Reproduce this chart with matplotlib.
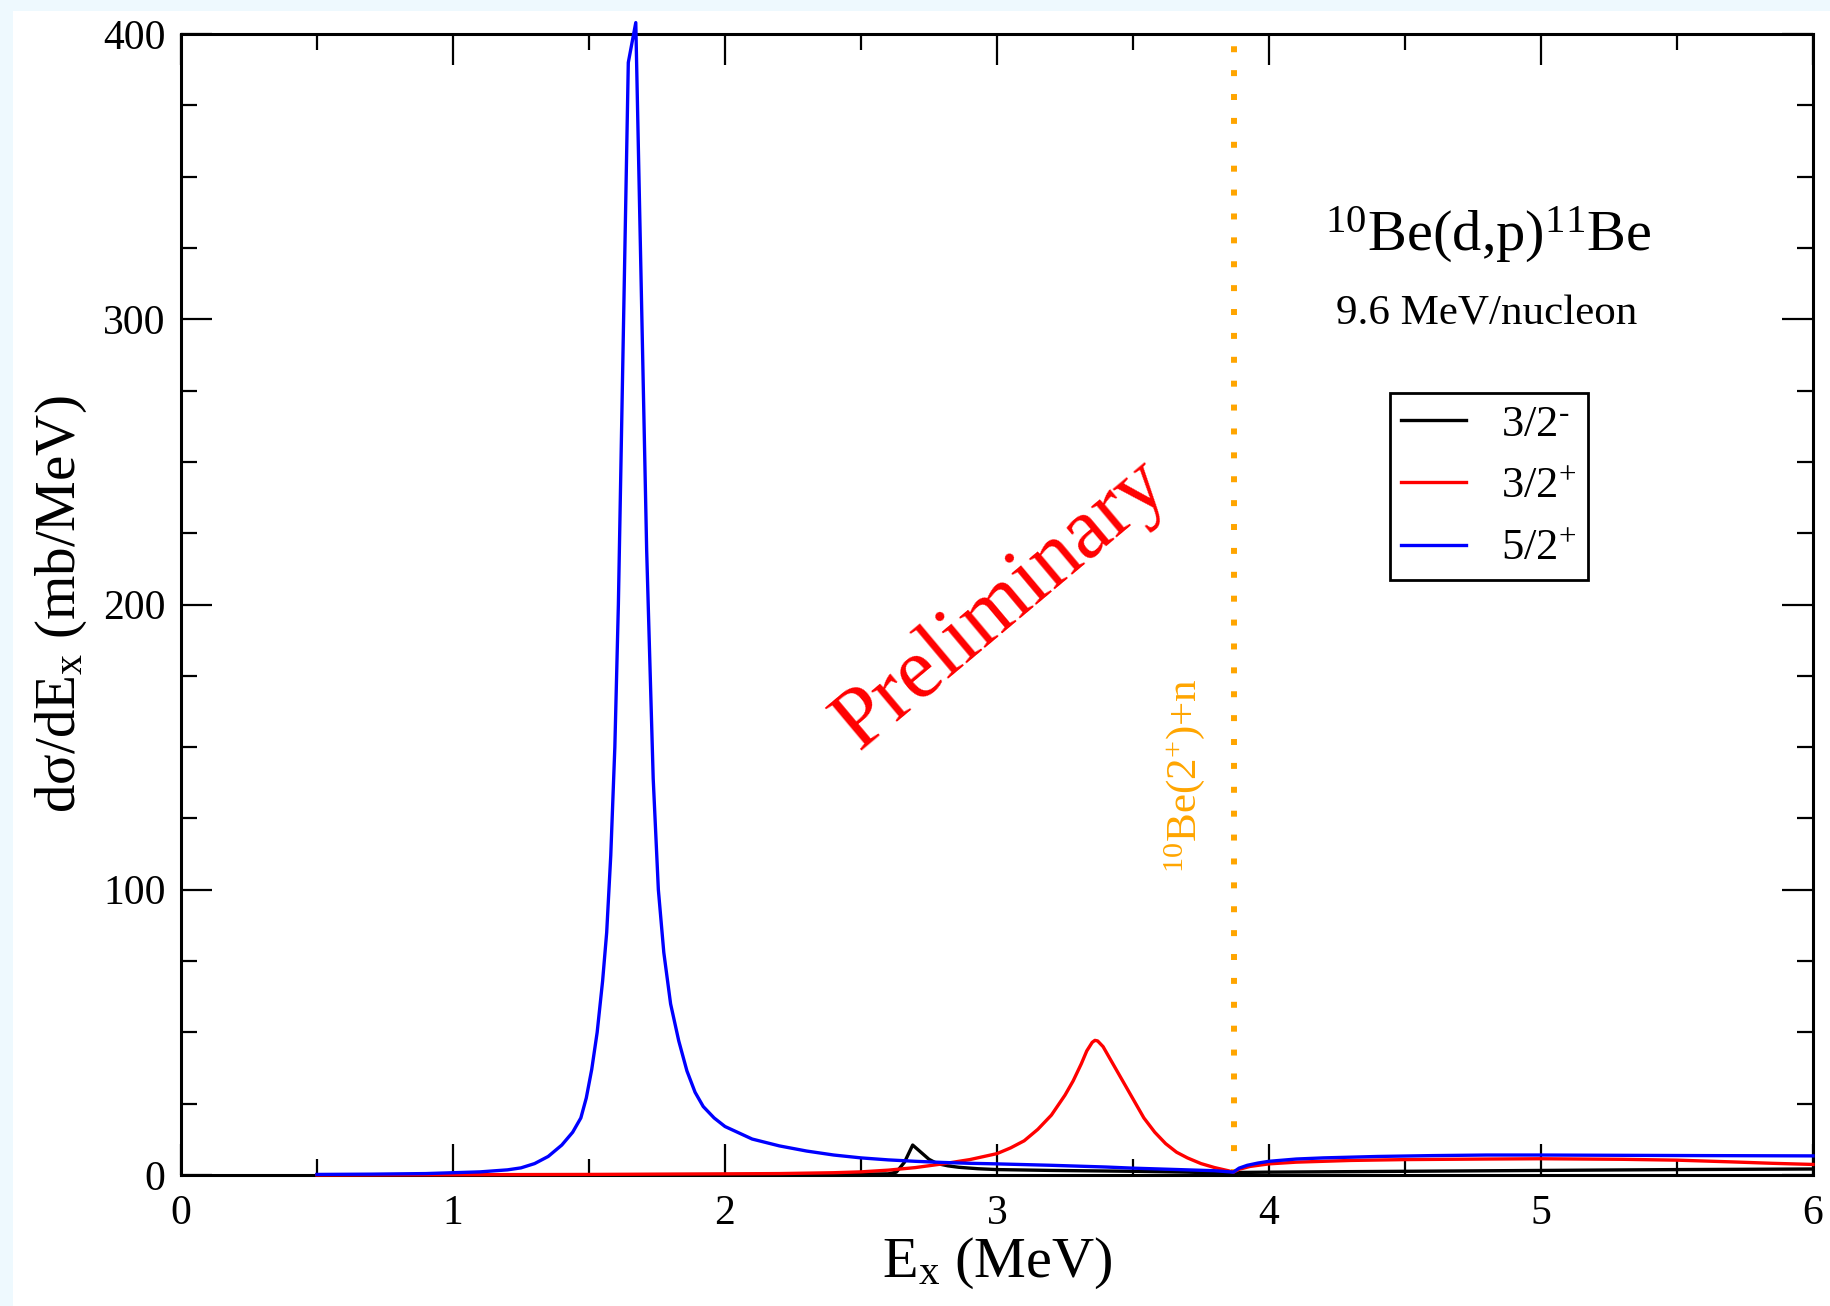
import matplotlib.pyplot as plt
from matplotlib.patches import Rectangle
from matplotlib.ticker import MultipleLocator

plt.rcParams['font.family'] = ['Liberation Serif', 'DejaVu Serif']
plt.rcParams['mathtext.fontset'] = 'custom'
plt.rcParams['mathtext.rm'] = 'Liberation Serif'
plt.rcParams['mathtext.it'] = 'Liberation Serif:italic'
plt.rcParams['mathtext.default'] = 'regular'

# dsigma/dEx for 10Be(d,p)11Be, one curve per final state
ex_32m = [0.5, 1.0, 1.5, 2.0, 2.4, 2.6, 2.63, 2.66, 2.69, 2.72, 2.75, 2.78,
          2.82, 2.86, 2.93, 3.0, 3.2, 3.5, 3.7, 3.869, 3.9, 4.0, 4.5, 5.0,
          5.5, 6.0]
xs_32m = [0.0, 0.05, 0.1, 0.15, 0.25, 0.4, 1.0, 4.5, 10.5, 8.0, 5.5, 4.0,
          3.2, 2.7, 2.2, 1.9, 1.6, 1.3, 1.0, 0.6, 0.9, 1.0, 1.3, 1.6,
          1.9, 2.1]

ex_32p = [0.5, 1.0, 1.5, 2.0, 2.2, 2.4, 2.5, 2.6, 2.7, 2.8, 2.9, 3.0, 3.05,
          3.1, 3.15, 3.2, 3.25, 3.28, 3.31, 3.33, 3.35, 3.36, 3.37, 3.39,
          3.42, 3.45, 3.48, 3.51, 3.54, 3.58, 3.62, 3.66, 3.70, 3.75, 3.80,
          3.85, 3.869, 3.89, 3.93, 4.0, 4.1, 4.3, 4.5, 4.8, 5.0, 5.3, 5.5,
          5.7, 5.85, 6.0]
xs_32p = [0.0, 0.1, 0.2, 0.4, 0.5, 0.8, 1.1, 1.7, 2.6, 3.9, 5.4, 7.5, 9.5,
          12.0, 16.0, 21.0, 28.0, 33.0, 39.0, 43.5, 46.5, 47.2, 47.0, 45.0,
          40.0, 35.0, 30.0, 25.0, 20.0, 15.0, 11.0, 8.0, 6.0, 4.0, 2.6,
          1.5, 1.0, 2.0, 3.0, 3.9, 4.5, 5.1, 5.4, 5.6, 5.7, 5.5, 5.2,
          4.6, 4.1, 3.7]

ex_52p = [0.5, 0.7, 0.9, 1.0, 1.1, 1.2, 1.25, 1.3, 1.35, 1.40, 1.44, 1.47,
          1.49, 1.51, 1.53, 1.55, 1.565, 1.58, 1.595, 1.608, 1.6445, 1.672,
          1.712, 1.724, 1.736, 1.755, 1.775, 1.80, 1.83, 1.86, 1.89, 1.92,
          1.96, 2.0, 2.1, 2.2, 2.3, 2.4, 2.5, 2.6, 2.7, 2.8, 2.9, 3.0, 3.2,
          3.4, 3.5, 3.6, 3.7, 3.8, 3.869, 3.89, 3.92, 3.96, 4.0, 4.1, 4.2,
          4.4, 4.6, 4.8, 5.0, 5.3, 5.6, 6.0]
xs_52p = [0.2, 0.3, 0.5, 0.8, 1.1, 1.8, 2.5, 4.0, 6.5, 10.5, 15.0, 20.0,
          27.0, 37.0, 50.0, 68.0, 85.0, 112.0, 150.0, 200.0, 390.0, 404.0,
          219.0, 179.0, 139.0, 100.0, 78.0, 60.0, 47.0, 36.5, 29.0, 24.0,
          20.0, 17.0, 12.6, 10.2, 8.4, 7.0, 6.0, 5.3, 4.8, 4.4, 4.1, 3.9,
          3.4, 2.8, 2.4, 2.1, 1.8, 1.5, 1.0, 2.4, 3.4, 4.2, 4.8, 5.6, 6.0,
          6.5, 6.8, 7.0, 7.0, 6.9, 6.8, 6.7]

labels = ['3/2$^{\\text{-}}$', '3/2$^{+}$', '5/2$^{+}$']
colors = ['black', 'red', 'blue']

threshold = 3.87  # 10Be(2+)+n

fig = plt.figure(figsize=(18.31, 13.06), dpi=100, facecolor='#eef9fe')
# white page with a thin tinted margin on the left and top
fig.patches.append(Rectangle((13 / 1831, 0), 1, 1 - 11 / 1306,
                             transform=fig.transFigure, facecolor='white',
                             edgecolor='none', zorder=-10))
ax = fig.add_axes([181 / 1831, 1 - 1175 / 1306, 1632 / 1831, 1141 / 1306])
ax.set_facecolor('white')

for ex, xs, lab, c in zip([ex_32m, ex_32p, ex_52p], [xs_32m, xs_32p, xs_52p],
                          labels, colors):
    ax.plot(ex, xs, color=c, lw=2.4, label=lab, clip_on=False, zorder=3,
            solid_joinstyle='round')

ax.axvline(threshold, color='#ffa500', lw=4.3, dashes=(1, 3),
           dash_capstyle='butt', zorder=2)

ax.set_xlim(0, 6)
ax.set_ylim(0, 400)
ax.xaxis.set_major_locator(MultipleLocator(1))
ax.xaxis.set_minor_locator(MultipleLocator(0.5))
ax.yaxis.set_major_locator(MultipleLocator(100))
ax.yaxis.set_minor_locator(MultipleLocator(25))
ax.tick_params(which='both', direction='in', top=True, right=True, width=1.6)
ax.tick_params(which='major', length=22, labelsize=30)
ax.tick_params(axis='x', which='major', pad=14)
ax.tick_params(axis='y', which='major', pad=11)
ax.tick_params(which='minor', length=11.5)
for s in ax.spines.values():
    s.set_linewidth(2.2)

ax.set_xlabel('E$_{x}$ (MeV)', fontsize=42, labelpad=2)
ax.set_ylabel('dσ/dE$_{x}$ (mb/MeV)', fontsize=41, labelpad=10)

ax.text(0.801, 0.81, '$^{10}$Be(d,p)$^{11}$Be', transform=ax.transAxes,
        fontsize=42, ha='center', va='baseline')
ax.text(0.80, 0.745, '9.6 MeV/nucleon', transform=ax.transAxes,
        fontsize=31, ha='center', va='baseline')
ax.text(0.503, 0.50, 'Preliminary', transform=ax.transAxes, color='red',
        fontsize=62, rotation=40, ha='center', va='center',
        rotation_mode='anchor')
ax.text(3.69, 140, '$^{10}$Be(2$^{+}$)+n', color='#ffa500', fontsize=31,
        rotation=90, ha='center', va='center')

leg = ax.legend(loc='upper left', bbox_to_anchor=(0.741, 0.685), fontsize=32,
                frameon=True, fancybox=False, edgecolor='black',
                handlelength=1.45, handletextpad=0.8, labelspacing=0.5,
                borderpad=0.25, borderaxespad=0)
leg.get_frame().set_linewidth(2.0)
leg.get_frame().set_alpha(1)

fig.savefig('out.png', dpi=100, facecolor=fig.get_facecolor())
